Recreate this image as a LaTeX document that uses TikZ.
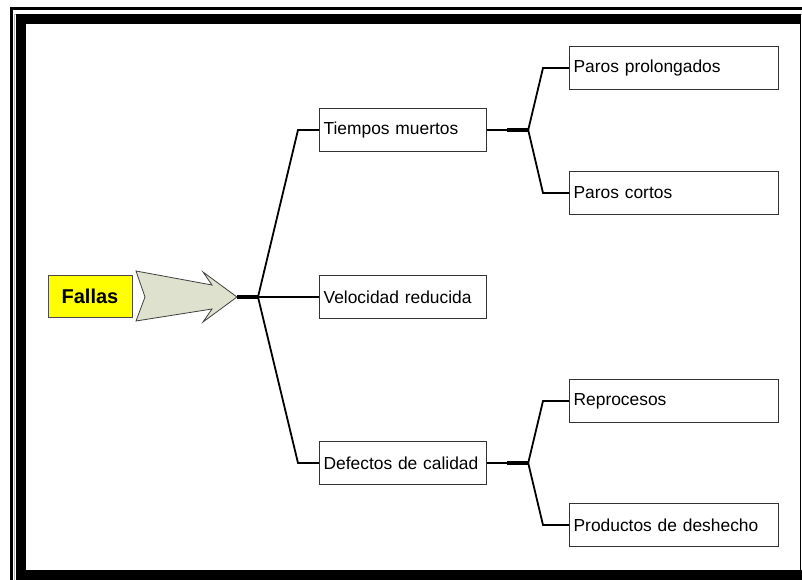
\documentclass[tikz,border=0pt]{standalone}
\usepackage{fontspec}
\setmainfont{Liberation Sans}
\usetikzlibrary{positioning,calc}
\definecolor{amarillo}{RGB}{255,255,0}
\definecolor{flechagris}{RGB}{221,225,206}
\tikzset{
  caja/.style={draw=black!80, line width=1.2pt, fill=white, anchor=west, align=left,
    inner sep=4pt, minimum height=43pt, font=\fontsize{17.4}{20}\selectfont},
  rama/.style={line width=1.8pt},
}

\begin{document}
\begin{tikzpicture}[x=1pt,y=-1pt]
\useasboundingbox (0,0) rectangle (802,580);
% marco
\draw[line width=2.5] (11.5,590) -- (11.5,8.5) -- (810,8.5);
\draw[gray!60, line width=1] (14.5,590) -- (14.5,14.5) -- (810,14.5);
\draw[line width=10] (21,590) -- (21,19) -- (801,19);
\draw[line width=1.5] (800.5,14) -- (800.5,576);
\fill (16,570) rectangle (805,585);

% causa
\node[draw=black!70, line width=1pt, fill=amarillo, minimum width=84, minimum height=42,
  font=\fontsize{20}{24}\selectfont\bfseries] (fallas) at (90,296) {Fallas};
\filldraw[fill=flechagris, draw=black!75, line width=0.8] (136,271) -- (212,285) -- (203,272)
  -- (237,297) -- (203,322) -- (212,309) -- (136,321) -- (145,297) -- cycle;
\coordinate (punta) at (237,297);
\coordinate (f0) at (258,297);
\draw[line width=4] (punta) -- (f0);

% primer nivel
\node[caja, text width=159] (tm) at (319,130) {Tiempos muertos};
\node[caja, text width=159] (vr) at (319,297) {Velocidad reducida};
\node[caja, text width=159] (dc) at (319,463) {Defectos de calidad};

% segundo nivel
\node[caja, text width=201] (pp) at (569,68) {Paros prolongados};
\node[caja, text width=201] (pc) at (569,193) {Paros cortos};
\node[caja, text width=201] (re) at (569,401) {Reprocesos};
\node[caja, text width=201] (pd) at (569,525) {Productos de deshecho};

\draw[rama] (f0) -- ([xshift=-21]tm.west) -- (tm.west);
\draw[rama] (f0) -- (vr.west);
\draw[rama] (f0) -- ([xshift=-21]dc.west) -- (dc.west);

\foreach \padre/\a/\b in {tm/pp/pc, dc/re/pd} {
  \coordinate (g) at ([xshift=41]\padre.east);
  \draw[rama] (\padre.east) -- (g);
  \draw[line width=3.2] ([xshift=20]\padre.east) -- (g);
  \draw[rama] (g) -- ([xshift=-26]\a.west) -- (\a.west);
  \draw[rama] (g) -- ([xshift=-26]\b.west) -- (\b.west);
}
\end{tikzpicture}
\end{document}
